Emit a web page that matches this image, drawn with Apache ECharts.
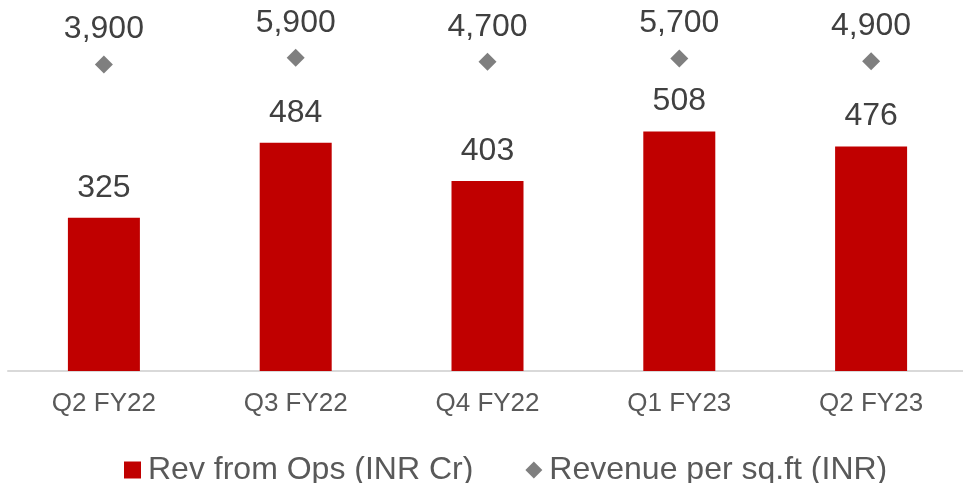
<!DOCTYPE html>
<html>
<head>
<meta charset="utf-8">
<script src="https://cdn.jsdelivr.net/npm/echarts@6/dist/echarts.min.js"></script>
<style>
  html, body { margin: 0; padding: 0; background: #fff; }
  #chart { width: 963px; height: 483px; }
</style>
</head>
<body>
<div id="chart"></div>
<script>
const categories = ['Q2 FY22', 'Q3 FY22', 'Q4 FY22', 'Q1 FY23', 'Q2 FY23'];
const revFromOps = [325, 484, 403, 508, 476];
const revPerSqft = [3900, 5900, 4700, 5700, 4900];

const chart = echarts.init(document.getElementById('chart'));

chart.setOption({
  animation: false,
  textStyle: { fontFamily: 'Liberation Sans, Arial, sans-serif' },
  grid: { left: 8, width: 959, top: 41, bottom: 112, outerBoundsMode: 'none' },
  legend: {
    left: 119,
    top: 449,
    itemWidth: 17,
    itemHeight: 17,
    itemGap: 52,
    textStyle: { fontSize: 32, color: '#595959', padding: [0, 0, 0, 2] },
    data: [
      { name: 'Rev from Ops (INR Cr)', icon: 'rect' },
      { name: 'Revenue per sq.ft (INR)', icon: 'diamond' }
    ]
  },
  xAxis: {
    type: 'category',
    data: categories,
    axisTick: { show: false },
    axisLine: { lineStyle: { color: '#d9d9d9', width: 2 } },
    axisLabel: { fontSize: 26, color: '#595959', margin: 20 }
  },
  yAxis: [
    { type: 'value', min: 0, max: 700, show: false, splitLine: { show: false } },
    { type: 'value', min: -89000, max: 11000, show: false, splitLine: { show: false } }
  ],
  series: [
    {
      name: 'Rev from Ops (INR Cr)',
      type: 'bar',
      barWidth: 72,
      itemStyle: { color: '#c00000' },
      label: {
        show: true,
        position: 'top',
        distance: 14,
        fontSize: 32,
        color: '#404040'
      },
      data: revFromOps
    },
    {
      name: 'Revenue per sq.ft (INR)',
      type: 'scatter',
      yAxisIndex: 1,
      symbol: 'diamond',
      symbolSize: 18,
      itemStyle: { color: '#7f7f7f', opacity: 1 },
      label: {
        show: true,
        position: 'top',
        distance: 10,
        fontSize: 32,
        color: '#404040',
        formatter: p => p.value.toLocaleString('en-US')
      },
      data: revPerSqft
    }
  ]
});
</script>
</body>
</html>
